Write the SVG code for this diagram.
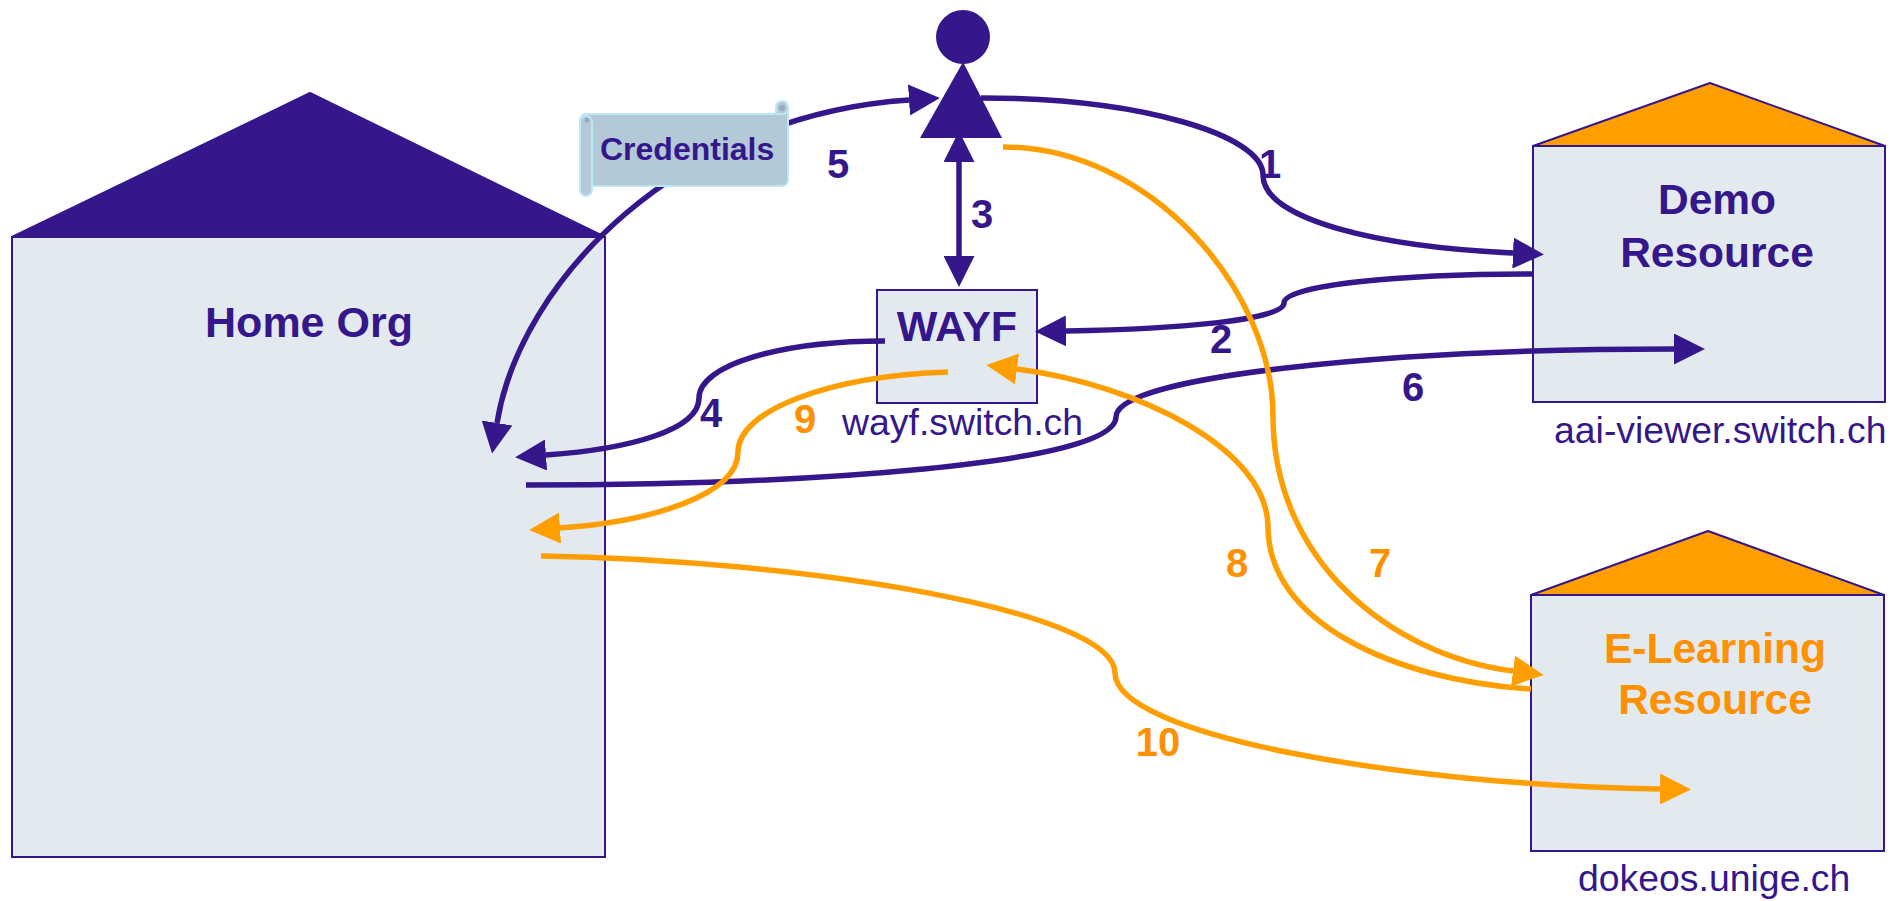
<svg xmlns="http://www.w3.org/2000/svg" width="1901" height="901" viewBox="0 0 1901 901">
<style>
text{font-family:"Liberation Sans",Arial,sans-serif;fill:#35178B}
.t{font-weight:bold;text-anchor:middle;font-size:42.5px}
.n{font-weight:bold;text-anchor:middle;font-size:40px}
.d{font-size:37.4px}
.o{fill:#FF9000}
.box{fill:#E3EAEF;stroke:#35178B;stroke-width:2}
.rp{fill:#35178B;stroke:#35178B;stroke-width:2;stroke-linejoin:round}
.ro{fill:#FF9E00;stroke:#35178B;stroke-width:2;stroke-linejoin:round}
.c{fill:none;stroke-width:5.5}
.p{stroke:#35178B}
.y{stroke:#FF9E00}
.ap{marker-end:url(#ap)}
.ay{marker-end:url(#ay)}
.s{fill:#B3C9D7;stroke:#BDE6F7;stroke-width:2}
</style>
<defs>
<marker id="ap" markerUnits="userSpaceOnUse" markerWidth="31" markerHeight="31" viewBox="0 0 31 31" refX="0" refY="15.5" orient="auto-start-reverse"><path d="M0 0L31 15.5L0 31z" fill="#35178B"/></marker>
<marker id="ay" markerUnits="userSpaceOnUse" markerWidth="31" markerHeight="31" viewBox="0 0 31 31" refX="0" refY="15.5" orient="auto-start-reverse"><path d="M0 0L31 15.5L0 31z" fill="#FF9E00"/></marker>
</defs>
<g id="home-org">
<rect class="box" x="12" y="237" width="593" height="620"/>
<path class="rp" d="M12 237L310 93L605 237z"/>
<text class="t" x="309" y="337" style="font-size:43px">Home Org</text>
</g>
<g id="demo-resource">
<rect class="box" x="1533" y="146" width="352" height="256"/>
<path class="ro" d="M1533 146L1710 83L1885 146z"/>
<text class="t" x="1717" y="214">Demo</text>
<text class="t" x="1717" y="267">Resource</text>
<text class="d" x="1554" y="443">aai-viewer.switch.ch</text>
</g>
<g id="elearning-resource">
<rect class="box" x="1531" y="595" width="353" height="256"/>
<path class="ro" d="M1531 595L1708 531L1884 595z"/>
<text class="t o" x="1715" y="663">E-Learning</text>
<text class="t o" x="1715" y="714">Resource</text>
<text class="d" x="1578" y="891">dokeos.unige.ch</text>
</g>
<g id="wayf">
<rect class="box" x="877" y="290" width="160" height="113"/>
<text class="t" x="957" y="341" style="font-size:43px">WAYF</text>
<text class="d" x="842" y="435">wayf.switch.ch</text>
</g>
<g id="connectors">
<path class="c p ap" d="M981 98C1140 98 1263 135 1263 175C1263 220 1380 247 1513 253"/>
<path class="c p ap" d="M1533 274C1400 274 1284 285 1284 303C1284 320 1180 329 1066 331"/>
<path class="c p ap" style="marker-start:url(#ap)" d="M959 162V256"/>
<path class="c p ap" d="M885 341C780 341 699 365 699 398C699 430 630 449 546 455"/>
<path class="c p ap" style="marker-start:url(#ap)" d="M909 100C680 115 520 280 497 423"/>
<path class="c p ap" d="M526 485C800 485 1116 465 1116 417C1116 375 1400 349 1674 349"/>
<path class="c y ay" d="M1003 147C1150 147 1273 290 1273 416C1273 560 1390 655 1513 671"/>
<path class="c y ay" d="M1531 689C1390 680 1268 620 1268 527C1268 450 1140 385 1017 369"/>
<path class="c y ay" d="M948 372C830 376 738 410 738 452C738 495 650 522 560 528"/>
<path class="c y ay" d="M541 556C800 560 1115 610 1115 673C1115 735 1400 785 1660 789"/>
<text class="n" x="1270" y="178">1</text>
<text class="n" x="1221" y="353">2</text>
<text class="n" x="982" y="228">3</text>
<text class="n" x="711" y="427">4</text>
<text class="n" x="838" y="178">5</text>
<text class="n" x="1413" y="401">6</text>
<text class="n o" x="1380" y="577">7</text>
<text class="n o" x="1237" y="577">8</text>
<text class="n o" x="805" y="433">9</text>
<text class="n o" x="1158" y="756">10</text>
</g>
<g id="user">
<circle cx="963" cy="37" r="27" fill="#35178B"/>
<path d="M963 62L1002 138H920z" fill="#35178B"/>
</g>
<g id="credentials">
<path class="s" d="M776 114V107A6 6 0 0 1 788 107V114z"/>
<path class="s" d="M586 114H782A6 6 0 0 0 788 110V180A6 6 0 0 1 782 186H592V126H580V120A6 6 0 0 1 586 114z"/>
<path class="s" d="M580 122A6 6 0 0 1 592 122V190A6 6 0 0 1 580 190z"/>
<circle cx="782" cy="108" r="3" fill="#9AA9B3"/>
<circle cx="587" cy="120" r="2.5" fill="#9AA9B3"/>
<text x="600" y="160" style="font-size:32px;font-weight:bold">Credentials</text>
</g>
</svg>
